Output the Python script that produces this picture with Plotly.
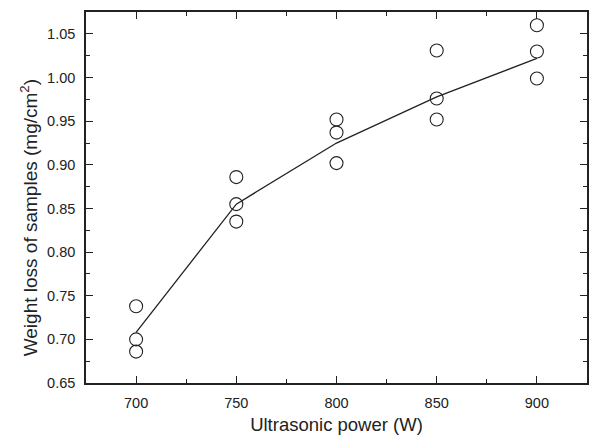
import plotly.graph_objects as go

power = [700, 700, 700, 750, 750, 750, 800, 800, 800, 850, 850, 850, 900, 900, 900]
weight_loss = [0.738, 0.700, 0.686, 0.886, 0.855, 0.835, 0.952, 0.937, 0.902,
               1.031, 0.976, 0.952, 1.060, 1.030, 0.999]
line_x = [700, 750, 800, 850, 900]
line_y = [0.708, 0.855, 0.925, 0.978, 1.022]
x_ticks = [700, 750, 800, 850, 900]
y_ticks = [0.65, 0.70, 0.75, 0.80, 0.85, 0.90, 0.95, 1.00, 1.05]

ink = "#222222"
fig = go.Figure()
fig.add_trace(go.Scatter(x=line_x, y=line_y, mode="lines",
                         line=dict(color=ink, width=1.3), showlegend=False))
fig.add_trace(go.Scatter(x=power, y=weight_loss, mode="markers",
                         marker=dict(symbol="circle-open", size=13, color=ink,
                                     line=dict(width=1.1, color=ink)),
                         showlegend=False))

font = dict(family="Liberation Sans, Arial, sans-serif", color=ink)
fig.update_layout(
    width=591, height=435,
    margin=dict(l=86, r=4, t=12, b=52),
    plot_bgcolor="white", paper_bgcolor="white",
    font=dict(size=14.5, **font),
    xaxis=dict(range=[675, 925], tickvals=x_ticks,
               ticks="inside", ticklen=7, tickwidth=1.4, tickcolor=ink,
               minor=dict(ticks="inside", ticklen=4, tickwidth=1.4, tickcolor=ink, dtick=25, tick0=675),
               showline=True, linecolor=ink, linewidth=1.5, mirror="ticks",
               showgrid=False, zeroline=False, automargin=False,
               ticklabelstandoff=6,
               title=dict(text="Ultrasonic power (W)", font=dict(size=18.5), standoff=8),
               tickfont=dict(size=14.5)),
    yaxis=dict(range=[0.65, 1.0752], tickvals=y_ticks,
               tickformat=".2f",
               ticks="inside", ticklen=7, tickwidth=1.4, tickcolor=ink,
               minor=dict(ticks="inside", ticklen=4, tickwidth=1.4, tickcolor=ink, dtick=0.025, tick0=0.65),
               showline=True, linecolor=ink, linewidth=1.5, mirror="ticks",
               showgrid=False, zeroline=False, automargin=False,
               ticklabelstandoff=6,
               tickfont=dict(size=14.5)),
    annotations=[dict(text="Weight loss of samples (mg/cm<sup>2</sup>)", textangle=-90,
                      xref="paper", yref="paper", x=-0.113, y=0.445,
                      xanchor="center", yanchor="middle", showarrow=False,
                      font=dict(size=19, **font))],
)
fig.write_html("out.html", config={"displayModeBar": False},
               post_script="document.body.style.margin='0px';")
